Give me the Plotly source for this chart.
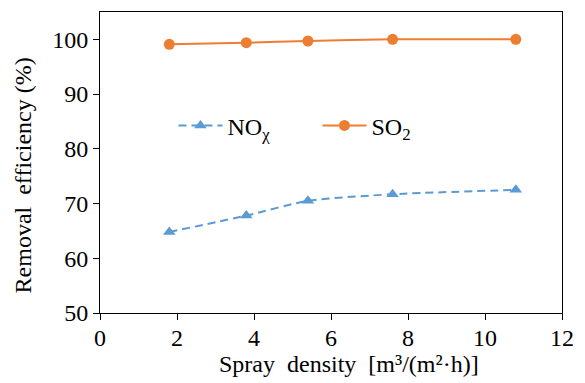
import plotly.graph_objects as go

spray_density = [1.8, 3.8, 5.4, 7.6, 10.8]
nox_eff = [64.8, 67.8, 70.5, 71.7, 72.5]
so2_eff = [99.1, 99.4, 99.7, 100.0, 100.0]

x_ticks = [0, 2, 4, 6, 8, 10, 12]
y_ticks = [50, 60, 70, 80, 90, 100]

FONT = "Liberation Serif"

fig = go.Figure()
fig.add_trace(go.Scatter(
    x=spray_density, y=nox_eff, name="NO<sub>χ</sub>",
    mode="lines+markers",
    line=dict(color="#5B9BD5", width=2, dash="8px,5px", shape="spline", smoothing=0.6),
    marker=dict(symbol="triangle-up", size=11, color="#5B9BD5"),
))
fig.add_trace(go.Scatter(
    x=spray_density, y=so2_eff, name="SO<sub>2</sub>",
    mode="lines+markers",
    line=dict(color="#ED7D31", width=2, shape="spline", smoothing=0.4),
    marker=dict(symbol="circle", size=11, color="#ED7D31"),
))

axis_common = dict(
    showgrid=False, zeroline=False, showline=True, linecolor="black", linewidth=1,
    mirror=True, ticks="outside", ticklen=6, tickcolor="black", tickwidth=1,
    tickfont=dict(family=FONT, size=24, color="black"),
)

fig.update_layout(
    width=585, height=383,
    margin=dict(l=100, r=12, t=11, b=70),
    paper_bgcolor="white", plot_bgcolor="white",
    font=dict(family=FONT, size=24, color="black"),
    xaxis=dict(range=[0, 12], tickvals=x_ticks, ticklabelstandoff=-3, **axis_common),
    yaxis=dict(range=[50, 105], tickvals=y_ticks, ticksuffix="\u00a0\u00a0", **axis_common),
    legend=dict(orientation="h", x=0.159, y=0.622, xanchor="left", yanchor="middle",
                bgcolor="rgba(0,0,0,0)", font=dict(family=FONT, size=24, color="black"),
                itemwidth=44, entrywidth=85, entrywidthmode="pixels"),
    showlegend=True,
    annotations=[
        dict(text="Spray\u00a0 density\u00a0 [m³/(m²·h)]", xref="paper", yref="paper",
             x=0.5, y=0, xanchor="center", yanchor="middle", yshift=-51, xshift=18,
             showarrow=False, font=dict(family=FONT, size=24, color="black")),
        dict(text="Removal\u00a0 efficiency (%)", xref="paper", yref="paper",
             x=0, y=0.457, xanchor="right", yanchor="middle", xshift=-62, textangle=-90,
             showarrow=False, font=dict(family=FONT, size=24, color="black")),
    ],
)

fig.write_html("out.html")
